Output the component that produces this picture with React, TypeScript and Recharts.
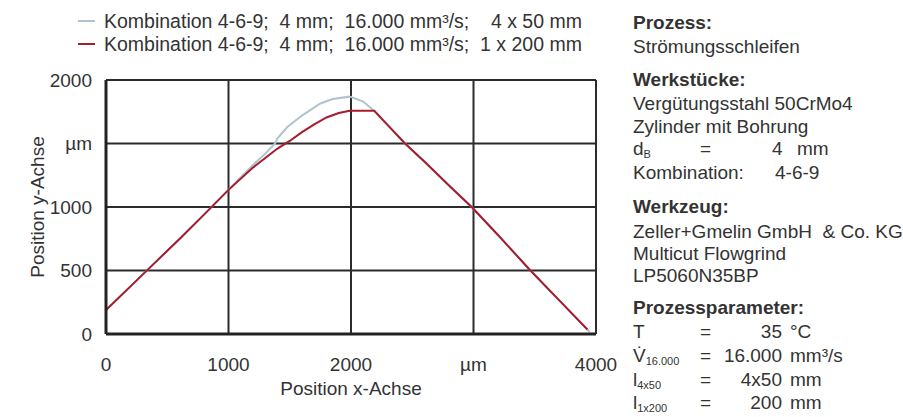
import React from 'react';
import { LineChart, Line, XAxis, YAxis, CartesianGrid } from 'recharts';

// y-position over x-position, both in µm
const xGray = [0, 200, 400, 600, 800, 1000, 1100, 1200, 1300, 1380, 1400, 1480, 1600, 1750, 1850, 1990, 2100, 2190, 2300, 2441, 2618, 2800, 2985, 3200, 3455, 3700, 3950];
const yGray = [189, 375, 562, 748, 940, 1135, 1235, 1330, 1420, 1500, 1540, 1630, 1720, 1815, 1850, 1869, 1830, 1757, 1645, 1500, 1340, 1170, 1000, 780, 510, 265, 15];

const xRed = [0, 200, 400, 600, 800, 1000, 1200, 1400, 1500, 1600, 1700, 1800, 1900, 1990, 2190, 2300, 2441, 2618, 2800, 2985, 3200, 3455, 3700, 3930];
const yRed = [189, 375, 562, 748, 940, 1135, 1310, 1460, 1520, 1590, 1650, 1705, 1740, 1757, 1757, 1645, 1500, 1340, 1170, 1000, 780, 510, 265, 35];

const xTicks = [0, 1000, 2000, 3000, 4000];
const xTickLabels = ['0', '1000', '2000', 'µm', '4000'];
const yTicks = [0, 500, 1000, 1500, 2000];
const yTickLabels = ['0', '500', '1000', 'µm', '2000'];

const seriesNames = [
  'Kombination 4-6-9;  4 mm;  16.000 mm³/s;    4 x 50 mm',
  'Kombination 4-6-9;  4 mm;  16.000 mm³/s;  1 x 200 mm',
];

const GRAY = '#aec3ce';
const RED = '#a51c2c';
const TEXT = '#333333';
const FONT = '"Liberation Sans", Arial, sans-serif';

const grayData = xGray.map((x, i) => ({ x, y: yGray[i] }));
const redData = xRed.map((x, i) => ({ x, y: yRed[i] }));

function ChartLegend() {
  const colors = [GRAY, RED];
  return (
    <div style={{ position: 'absolute', left: 0, top: 0, fontFamily: FONT, fontSize: 19.5, color: TEXT }}>
      {seriesNames.map((name, i) => (
        <div key={name} style={{ position: 'absolute', left: 78, top: 10 + i * 23, height: 22, whiteSpace: 'pre', display: 'flex', alignItems: 'center' }}>
          <span style={{ display: 'inline-block', width: 17, height: 2, background: colors[i], marginRight: 9 }} />
          <span>{name}</span>
        </div>
      ))}
    </div>
  );
}

const T = (top: number, left: number, content: React.ReactNode, extra: React.CSSProperties = {}) => (
  <div style={{ position: 'absolute', top: top - 10, left, height: 20, lineHeight: '20px', whiteSpace: 'pre', ...extra }}>{content}</div>
);

const sub = (s: string) => (
  <span style={{ fontSize: 11, position: 'relative', top: 3, lineHeight: 0 }}>{s}</span>
);

function InfoPanel() {
  const bold = { fontWeight: 'bold' as const };
  const right = (cy: number, end: number, s: string) => T(cy, end - 100, s, { width: 100, textAlign: 'right' });
  return (
    <div style={{ position: 'absolute', left: 0, top: 0, fontFamily: FONT, fontSize: 19, color: TEXT }}>
      {T(23, 633, 'Prozess:', bold)}
      {T(47, 633, 'Strömungsschleifen')}
      {T(80, 633, 'Werkstücke:', bold)}
      {T(104, 633, 'Vergütungsstahl 50CrMo4')}
      {T(127, 633, 'Zylinder mit Bohrung')}
      {T(149, 633, <>d{sub('B')}</>)}
      {T(149, 700, '=')}
      {T(149, 772, '4')}
      {T(149, 797, 'mm')}
      {T(173, 633, 'Kombination:')}
      {T(173, 775, '4-6-9')}
      {T(207, 633, 'Werkzeug:', bold)}
      {T(232, 633, 'Zeller+Gmelin GmbH  & Co. KG')}
      {T(254, 633, 'Multicut Flowgrind')}
      {T(276, 633, 'LP5060N35BP')}
      {T(308, 633, 'Prozessparameter:', bold)}
      {T(332, 633, 'T')}
      {T(332, 700, '=')}
      {right(332, 782, '35')}
      {T(332, 790, '°C')}
      {T(356, 633, <>V&#775;{sub('16.000')}</>)}
      {T(356, 700, '=')}
      {right(356, 782, '16.000')}
      {T(356, 790, 'mm³/s')}
      {T(380, 633, <>l{sub('4x50')}</>)}
      {T(380, 700, '=')}
      {right(380, 782, '4x50')}
      {T(380, 790, 'mm')}
      {T(403, 633, <>l{sub('1x200')}</>)}
      {T(403, 700, '=')}
      {right(403, 782, '200')}
      {T(403, 790, 'mm')}
    </div>
  );
}

export default function App() {
  const tickStyle = { fontSize: 19, fill: TEXT, fontFamily: FONT };
  return (
    <div style={{ position: 'absolute', left: 0, top: 0, width: 903, height: 417, background: '#fff', fontFamily: FONT, overflow: 'hidden' }}>
      <LineChart width={620} height={417} margin={{ top: 80, right: 24, left: 0, bottom: 0 }}>
        <CartesianGrid stroke="#2b2b2b" strokeWidth={2} />
        <XAxis
          type="number"
          dataKey="x"
          domain={[0, 4000]}
          ticks={xTicks}
          tickFormatter={(v: number) => xTickLabels[xTicks.indexOf(v)]}
          tick={tickStyle}
          tickLine={false}
          tickSize={0}
          tickMargin={24}
          axisLine={{ stroke: '#222', strokeWidth: 3 }}
          height={83}
          label={{ value: 'Position x-Achse', position: 'insideBottom', offset: 22, style: { fontSize: 19, fill: TEXT, fontFamily: FONT } }}
        />
        <YAxis
          type="number"
          domain={[0, 2000]}
          ticks={yTicks}
          tickFormatter={(v: number) => yTickLabels[yTicks.indexOf(v)]}
          tick={tickStyle}
          tickLine={false}
          tickSize={0}
          tickMargin={14}
          axisLine={{ stroke: '#222', strokeWidth: 3 }}
          width={106}
          label={{ value: 'Position y-Achse', angle: -90, position: 'insideLeft', offset: 37, style: { textAnchor: 'middle', fontSize: 19, fill: TEXT, fontFamily: FONT } }}
        />
        <Line data={grayData} dataKey="y" name={seriesNames[0]} stroke={GRAY} strokeWidth={2} dot={false} type="linear" isAnimationActive={false} />
        <Line data={redData} dataKey="y" name={seriesNames[1]} stroke={RED} strokeWidth={2} dot={false} type="linear" isAnimationActive={false} />
      </LineChart>
      <ChartLegend />
      <InfoPanel />
    </div>
  );
}
